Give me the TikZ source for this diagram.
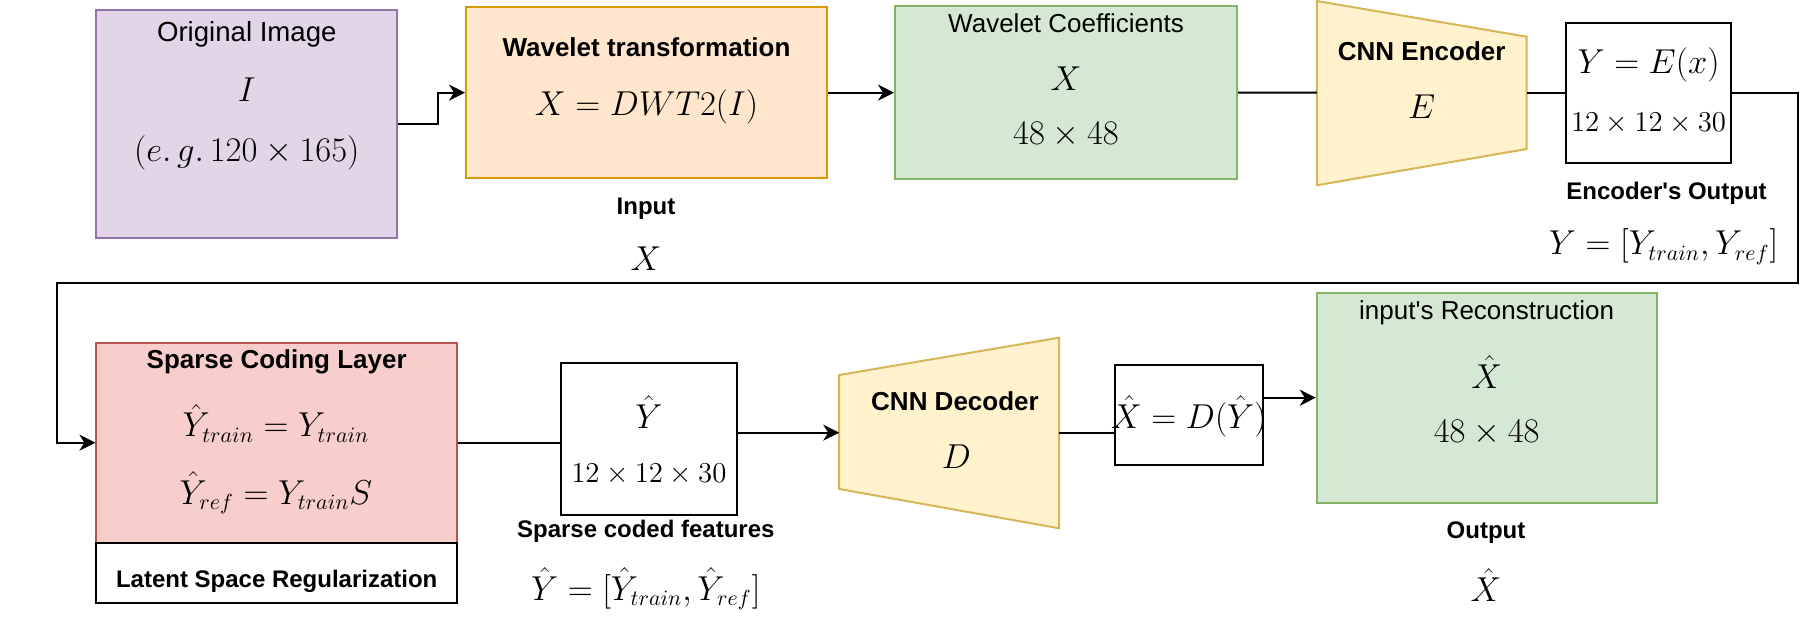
\documentclass[tikz,border=0pt]{standalone}
\usepackage{fontspec}
\setmainfont{Liberation Sans}
\usetikzlibrary{arrows.meta,fit}
\definecolor{purF}{HTML}{E1D5E7}\definecolor{purD}{HTML}{9673A6}
\definecolor{oraF}{HTML}{FFE6CC}\definecolor{oraD}{HTML}{D79B00}
\definecolor{grnF}{HTML}{D5E8D4}\definecolor{grnD}{HTML}{82B366}
\definecolor{yelF}{HTML}{FFF2CC}\definecolor{yelD}{HTML}{D6B656}
\definecolor{redF}{HTML}{F8CECC}\definecolor{redD}{HTML}{B85450}
\begin{document}
\begin{tikzpicture}[x=0.5pt,y=-0.5pt,
  box/.style={draw, line width=1pt, inner sep=0pt},
  pbox/.style={box, draw=purD, fill=purF},
  obox/.style={box, draw=oraD, fill=oraF},
  gbox/.style={box, draw=grnD, fill=grnF},
  rbox/.style={box, draw=redD, fill=redF},
  wbox/.style={box, draw=black, fill=white},
  trap/.style={draw=yelD, fill=yelF, line width=1pt},
  txt/.style={inner sep=0pt, font=\fontsize{13}{16}\selectfont},
  ttl/.style={inner sep=0pt, font=\fontsize{13}{16}\selectfont\bfseries},
  lbl/.style={inner sep=0pt, font=\fontsize{12}{15}\selectfont\bfseries},
  mth/.style={inner sep=0pt, font=\fontsize{16}{19}\selectfont},
  smth/.style={inner sep=0pt, font=\fontsize{15}{18}\selectfont},
  con/.style={line width=1pt},
  arr/.style={line width=1pt, -{Stealth[length=8pt,width=8pt,inset=2.5pt]}}]
\useasboundingbox (0,0) rectangle (1814,630);
% boxes
\node[pbox, fit={(96.4,10) (397.2,238)}] (orig) {};
\node[obox, fit={(466,7.3) (827,178)}] (wt) {};
\node[gbox, fit={(895,6) (1237,179.3)}] (wc) {};
\node[wbox, fit={(1566.3,22.7) (1730.7,163)}] (ybox) {};
\node[rbox, fit={(96.4,342.7) (457,542.7)}] (scl) {};
\node[wbox, fit={(96.4,542.7) (457,602.7)}] (lat) {};
\node[wbox, fit={(560.8,362.7) (737,515)}] (yhat) {};
\node[wbox, fit={(1115.1,365) (1262.6,465)}] (xbox) {};
\node[gbox, fit={(1316.8,292.7) (1656.6,502.7)}] (rec) {};
% trapezoids
\coordinate (encA) at (1316.8,1);
\coordinate (encB) at (1526.6,36.7);
\coordinate (encC) at (1526.6,149);
\coordinate (encD) at (1316.8,185.3);
\coordinate (encL) at (1316.8,92.7);
\coordinate (encR) at (1526.6,92.7);
\draw[trap] (encA) -- (encB) -- (encC) -- (encD) -- cycle;
\coordinate (decA) at (839.2,375);
\coordinate (decB) at (1059.1,337.7);
\coordinate (decC) at (1059.1,528.3);
\coordinate (decD) at (839.2,489);
\coordinate (decL) at (839.2,432.7);
\coordinate (decR) at (1059.1,432.7);
\draw[trap] (decA) -- (decB) -- (decC) -- (decD) -- cycle;
% texts
\node[txt, font=\fontsize{13.8}{16}\selectfont] (t1) at (246.8,34.2) {Original Image};
\node[mth] (t2) at (246.8,90) {$I$};
\node[mth] (t3) at (246.8,153) {$(e.\,g.\,120\times 165)$};
\node[ttl] (t4) at (646.5,47.7) {Wavelet transformation};
\node[mth] (t5) at (646.5,106.6) {$X=DWT2(I)$};
\node[lbl] (t6) at (646,209) {Input};
\node[mth] (t7) at (646,258.3) {$X$};
\node[txt] (t8) at (1066,23.3) {Wavelet Coefficients};
\node[mth] (t9) at (1066,78.3) {$X$};
\node[mth] (t10) at (1066,135) {$48\times 48$};
\node[ttl] (t11) at (1421.7,51.7) {CNN Encoder};
\node[mth] (t12) at (1421.7,106.7) {$E$};
\node[mth] (t13) at (1648.5,65) {$Y=E(x)$};
\node[smth] (t14) at (1648.5,123.9) {$12\times 12\times 30$};
\node[lbl] (t15) at (1666.5,193) {Encoder\textquotesingle s Output};
\node[mth] (t16) at (1663.6,246.7) {$Y=[Y_{train},Y_{ref}]$};
\node[ttl] (t17) at (276.7,362.3) {Sparse Coding Layer};
\node[mth] (t18) at (276,423.2) {$\hat{Y}_{train}=Y_{train}$};
\node[mth] (t19) at (276,492.7) {$\hat{Y}_{ref}=Y_{train}S$};
\node[lbl] (t20) at (276.7,581.5) {Latent Space Regularization};
\node[mth] (t21) at (648.9,411.7) {$\hat{Y}$};
\node[smth, font=\fontsize{15.5}{18}\selectfont] (t22) at (648.9,474) {$12\times 12\times 30$};
\node[lbl] (t23) at (645.8,531) {Sparse coded features};
\node[mth] (t24) at (645.8,589) {$\hat{Y}=[\hat{Y}_{train},\hat{Y}_{ref}]$};
\node[ttl] (t25) at (955,401) {CNN Decoder};
\node[mth] (t26) at (956.5,456.7) {$D$};
\node[mth] (t27) at (1188.85,416) {$\hat{X}=D(\hat{Y})$};
\node[txt] (t28) at (1486.7,312.5) {input\textquotesingle s Reconstruction};
\node[mth] (t29) at (1486.7,371.7) {$\hat{X}$};
\node[mth] (t30) at (1486.7,432.5) {$48\times 48$};
\node[lbl] (t31) at (1486,532.3) {Output};
\node[mth] (t32) at (1486,585) {$\hat{X}$};
% connectors
\draw[arr] (orig.east) -- ++(40.2,0) |- (wt.west);
\draw[arr] (wt.east) -- (wc.west);
\draw[con] (wc.east) -- (encL);
\draw[con] (encR) -- (encR -| ybox.west);
\draw[arr] (ybox.east) -- ++(65.8,0) |- (57.4,282.7) |- (scl.west);
\draw[con] (scl.east) -- (scl.east -| yhat.west);
\draw[arr] (yhat.east |- decL) -- (decL);
\draw[con] (decR) -- (decR -| xbox.west);
\draw[arr] (xbox.east |- rec.west) -- (rec.west);
\end{tikzpicture}
\end{document}
